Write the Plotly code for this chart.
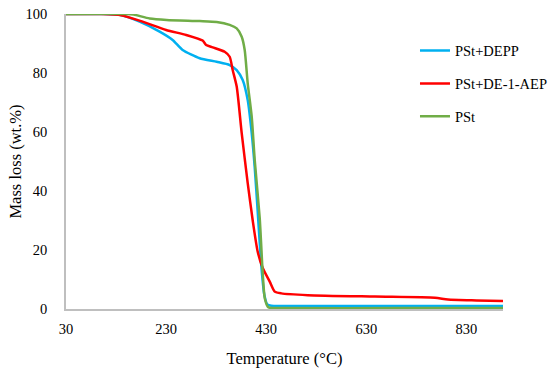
import plotly.graph_objects as go

# PSt+DEPP
t_depp = [30, 100, 137, 177, 217, 243, 263, 297, 331, 357, 371, 383, 393, 401, 407, 413, 420, 426, 432, 440, 460, 600, 800, 903]
m_depp = [100, 100, 99.7, 97.4, 94, 91.2, 87.8, 85, 83.8, 82.7, 81, 77.6, 70.8, 59.6, 48, 33, 15, 5, 1.6, 1.1, 1.0, 1.0, 1.0, 1.0]

# PSt+DE-1-AEP
t_aep = [30, 100, 140, 183, 230, 270, 303, 310, 323, 347, 357, 363, 371, 381, 393, 403, 413, 423, 437, 447, 460, 513, 647, 767, 793, 850, 903]
m_aep = [100, 100, 99.6, 97.4, 94.6, 92.9, 91, 89.5, 88.7, 87.2, 85.5, 81, 75.4, 59.6, 42.7, 30, 19.4, 13.9, 9.3, 5.9, 5.3, 4.7, 4.2, 3.8, 3.2, 2.9, 2.7]

# PSt
t_pst = [30, 150, 165, 197, 231, 297, 331, 357, 371, 381, 387, 393, 401, 407, 417, 423, 427, 433, 437, 460, 700, 903]
m_pst = [100, 100, 99.8, 98.5, 98, 97.6, 97.3, 96.3, 95.1, 92.3, 87.8, 76.5, 65.2, 50.5, 30.8, 12, 3.7, 0.8, 0.4, 0.3, 0.3, 0.3]

x_ticks = [30, 230, 430, 630, 830]
y_ticks = [0, 20, 40, 60, 80, 100]

FONT = "Liberation Serif"

fig = go.Figure()
fig.add_trace(go.Scatter(x=t_depp, y=m_depp, mode="lines", name="PSt+DEPP", legendgroup="a",
                         line=dict(color="#00B0F0", width=2.5, shape="spline", smoothing=0.6)))
fig.add_trace(go.Scatter(x=t_aep, y=m_aep, mode="lines", name="PSt+DE-1-AEP", legendgroup="b",
                         line=dict(color="#FF0000", width=2.5, shape="spline", smoothing=0.6)))
fig.add_trace(go.Scatter(x=t_pst, y=m_pst, mode="lines", name="PSt", legendgroup="c",
                         line=dict(color="#70AD47", width=2.5, shape="spline", smoothing=0.6)))

fig.update_layout(
    width=550, height=371,
    margin=dict(l=66, r=47, t=14, b=62, autoexpand=False),
    paper_bgcolor="white", plot_bgcolor="white",
    font=dict(family=FONT, size=14.5, color="black"),
    showlegend=True,
    legend=dict(x=0.7986, y=0.93, xanchor="left", yanchor="top",
                font=dict(family=FONT, size=14.5), tracegroupgap=11,
                itemwidth=30, bgcolor="rgba(0,0,0,0)"),
    xaxis=dict(range=[30, 903], tickvals=x_ticks, ticktext=[str(v) for v in x_ticks],
               showgrid=False, zeroline=False, showline=True, linecolor="#BFBFBF",
               linewidth=1.5, ticks="", ticklabelstandoff=6, automargin=False,
               tickfont=dict(family=FONT, size=14.5),
               title=dict(text="Temperature (°C)", font=dict(family=FONT, size=16.5), standoff=16)),
    yaxis=dict(range=[0, 100], tickvals=y_ticks, showgrid=False, zeroline=False,
               showline=True, linecolor="#BFBFBF", linewidth=1.5, ticks="",
               ticklabelstandoff=14, automargin=False,
               tickfont=dict(family=FONT, size=14.5),
               title=dict(text="Mass loss (wt.%)", font=dict(family=FONT, size=16.5), standoff=0)),
)

fig.write_html("out.html", config={"displayModeBar": False},
               post_script="document.body.style.margin='0';document.body.style.overflow='hidden';")
